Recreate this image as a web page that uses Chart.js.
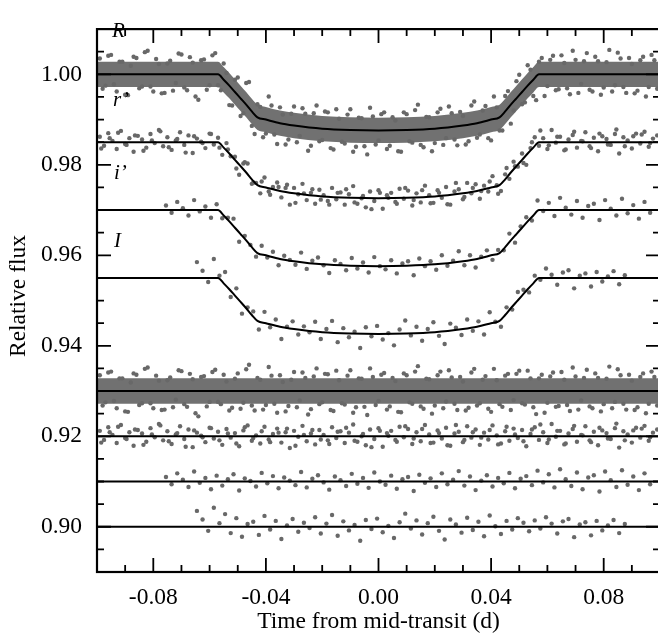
<!DOCTYPE html>
<html>
<head>
<meta charset="utf-8">
<script src="https://cdn.jsdelivr.net/npm/chart.js@4.4.1/dist/chart.umd.min.js"></script>
<style>
  html, body { margin: 0; padding: 0; background: #fff; overflow: hidden; }
  #wrap { width: 664px; height: 636px; }
</style>
</head>
<body>
<div id="wrap"><canvas id="lc" width="664" height="636"></canvas></div>
<script>
// band names, top to bottom
const bandNames = ['R', 'r\u2019', 'i\u2019', 'I'];

// time sampling of each light curve (d)
const rStart = -0.099, rStep = 0.002;
const r2Start = -0.098, r2Step = 0.002;
const rpStart = -0.099, rpStep = 0.0015;
const rp2Start = -0.0985, rp2Step = 0.003;
const ipStart = -0.0755, ipStep = 0.002;
const iStart = -0.0645, iStep = 0.002;

// R band relative flux (two interleaved runs)
const rFlux = [
  1.0035, 0.9975, 1.0043, 0.9962, 1.0028, 0.9954, 1.0039, 0.9969, 1.0049, 0.9973,
  1.0034, 0.9958, 1.0024, 0.9964, 1.0046, 0.9971, 1.0038, 0.9951, 1.0031, 0.9966,
  1.0042, 0.9976, 1.0024, 0.9932, 0.9988, 0.9908, 0.9981, 0.9886, 0.9934, 0.9861,
  0.9951, 0.9867, 0.9927, 0.9845, 0.9913, 0.9850, 0.9925, 0.9831, 0.9914, 0.9852,
  0.9918, 0.9837, 0.9923, 0.9851, 0.9911, 0.9829, 0.9904, 0.9841, 0.9926, 0.9845,
  0.9912, 0.9835, 0.9905, 0.9830, 0.9916, 0.9852, 0.9921, 0.9844, 0.9906, 0.9830,
  0.9916, 0.9844, 0.9929, 0.9856, 0.9917, 0.9845, 0.9931, 0.9860, 0.9920, 0.9859,
  0.9951, 0.9876, 0.9952, 0.9891, 0.9985, 0.9934, 1.0020, 0.9952, 1.0028, 0.9952,
  1.0032, 0.9965, 1.0042, 0.9969, 1.0052, 0.9959, 1.0029, 0.9966, 1.0039, 0.9955,
  1.0027, 0.9962, 1.0048, 0.9972, 1.0036, 0.9958, 1.0031, 0.9951, 1.0043, 0.9968
];
const rFlux2 = [
  0.9968, 1.0041, 0.9978, 1.0028, 0.9955, 1.0019, 1.0036, 0.9973, 1.0052, 0.9962,
  1.0023, 0.9959, 1.0030, 0.9981, 1.0044, 0.9965, 1.0026, 0.9944, 1.0033, 0.9976,
  1.0047, 0.9965, 1.0003, 0.9931, 0.9993, 0.9914, 0.9983, 0.9868, 0.9928, 0.9869,
  0.9931, 0.9846, 0.9911, 0.9856, 0.9929, 0.9864, 0.9913, 0.9842, 0.9931, 0.9855,
  0.9916, 0.9834, 0.9902, 0.9847, 0.9923, 0.9840, 0.9903, 0.9823, 0.9907, 0.9854,
  0.9916, 0.9842, 0.9898, 0.9829, 0.9912, 0.9849, 0.9933, 0.9839, 0.9905, 0.9848,
  0.9924, 0.9859, 0.9914, 0.9843, 0.9908, 0.9852, 0.9940, 0.9867, 0.9930, 0.9854,
  0.9927, 0.9876, 0.9963, 0.9920, 0.9999, 0.9938, 1.0010, 0.9943, 1.0036, 0.9974,
  1.0041, 0.9967, 1.0025, 0.9956, 1.0032, 0.9979, 1.0047, 0.9962, 1.0029, 0.9971,
  1.0054, 0.9976, 1.0035, 0.9959, 1.0023, 0.9964, 1.0039, 0.9972, 1.0031
];
// R residuals, offset to 0.93
const rResid = [
  0.9335, 0.9275, 0.9343, 0.9262, 0.9328, 0.9254, 0.9339, 0.9269, 0.9349, 0.9273,
  0.9334, 0.9258, 0.9324, 0.9264, 0.9346, 0.9271, 0.9338, 0.9251, 0.9331, 0.9266,
  0.9342, 0.9276, 0.9336, 0.9257, 0.9327, 0.9261, 0.9348, 0.9268, 0.9329, 0.9259,
  0.9353, 0.9272, 0.9335, 0.9255, 0.9325, 0.9264, 0.9341, 0.9248, 0.9332, 0.9271,
  0.9338, 0.9258, 0.9345, 0.9273, 0.9334, 0.9252, 0.9328, 0.9265, 0.9350, 0.9269,
  0.9336, 0.9259, 0.9329, 0.9254, 0.9339, 0.9275, 0.9343, 0.9266, 0.9327, 0.9250,
  0.9335, 0.9262, 0.9346, 0.9272, 0.9331, 0.9257, 0.9341, 0.9268, 0.9325, 0.9261,
  0.9349, 0.9271, 0.9334, 0.9258, 0.9338, 0.9273, 0.9345, 0.9264, 0.9328, 0.9252,
  0.9332, 0.9265, 0.9342, 0.9269, 0.9352, 0.9259, 0.9329, 0.9266, 0.9339, 0.9255,
  0.9327, 0.9262, 0.9348, 0.9272, 0.9336, 0.9258, 0.9331, 0.9251, 0.9343, 0.9268
];
const rResid2 = [
  0.9268, 0.9341, 0.9278, 0.9328, 0.9255, 0.9319, 0.9336, 0.9273, 0.9352, 0.9262,
  0.9323, 0.9259, 0.9330, 0.9281, 0.9344, 0.9265, 0.9326, 0.9244, 0.9333, 0.9276,
  0.9347, 0.9271, 0.9321, 0.9263, 0.9339, 0.9274, 0.9358, 0.9257, 0.9325, 0.9269,
  0.9334, 0.9252, 0.9320, 0.9267, 0.9342, 0.9279, 0.9329, 0.9260, 0.9350, 0.9275,
  0.9337, 0.9256, 0.9324, 0.9270, 0.9346, 0.9264, 0.9327, 0.9247, 0.9331, 0.9278,
  0.9340, 0.9266, 0.9322, 0.9253, 0.9335, 0.9272, 0.9355, 0.9261, 0.9326, 0.9268,
  0.9343, 0.9277, 0.9330, 0.9258, 0.9321, 0.9263, 0.9349, 0.9273, 0.9333, 0.9254,
  0.9324, 0.9265, 0.9338, 0.9280, 0.9345, 0.9270, 0.9328, 0.9249, 0.9336, 0.9274,
  0.9341, 0.9267, 0.9325, 0.9256, 0.9332, 0.9279, 0.9347, 0.9262, 0.9329, 0.9271,
  0.9354, 0.9276, 0.9335, 0.9259, 0.9323, 0.9264, 0.9339, 0.9272, 0.9331
];

// r' band, offset to 0.985
const rpFlux = [
  0.9862, 0.9842, 0.9870, 0.9853, 0.9835, 0.9875, 0.9846, 0.9859, 0.9829, 0.9864,
  0.9856, 0.9838, 0.9868, 0.9848, 0.9877, 0.9841, 0.9861, 0.9833, 0.9854, 0.9872,
  0.9844, 0.9865, 0.9826, 0.9858, 0.9851, 0.9837, 0.9869, 0.9845, 0.9860, 0.9822,
  0.9848, 0.9819, 0.9818, 0.9778, 0.9803, 0.9803, 0.9758, 0.9760, 0.9737, 0.9772,
  0.9741, 0.9751, 0.9761, 0.9728, 0.9749, 0.9712, 0.9749, 0.9735, 0.9758, 0.9722,
  0.9738, 0.9714, 0.9745, 0.9733, 0.9720, 0.9749, 0.9724, 0.9739, 0.9712, 0.9735,
  0.9753, 0.9714, 0.9726, 0.9706, 0.9741, 0.9720, 0.9744, 0.9703, 0.9733, 0.9738,
  0.9718, 0.9747, 0.9725, 0.9743, 0.9710, 0.9737, 0.9717, 0.9754, 0.9733, 0.9716,
  0.9744, 0.9727, 0.9751, 0.9712, 0.9741, 0.9746, 0.9724, 0.9760, 0.9737, 0.9757,
  0.9725, 0.9754, 0.9741, 0.9775, 0.9755, 0.9742, 0.9779, 0.9769, 0.9807, 0.9796,
  0.9825, 0.9800, 0.9837, 0.9861, 0.9842, 0.9859, 0.9835, 0.9877, 0.9849, 0.9862,
  0.9832, 0.9856, 0.9866, 0.9838, 0.9853, 0.9872, 0.9841, 0.9860, 0.9830, 0.9863,
  0.9857, 0.9844, 0.9868, 0.9825, 0.9861, 0.9854, 0.9836, 0.9869, 0.9847, 0.9873,
  0.9840, 0.9858, 0.9865
];
const rpFlux2 = [
  0.9836, 0.9859, 0.9871, 0.9844, 0.9865, 0.9831, 0.9854, 0.9874, 0.9839, 0.9857,
  0.9827, 0.9863, 0.9848, 0.9868, 0.9838, 0.9834, 0.9792, 0.9806, 0.9761, 0.9763,
  0.9734, 0.9751, 0.9756, 0.9716, 0.9737, 0.9746, 0.9723, 0.9712, 0.9738, 0.9746,
  0.9717, 0.9731, 0.9702, 0.9738, 0.9727, 0.9714, 0.9749, 0.9722, 0.9744, 0.9715,
  0.9738, 0.9713, 0.9760, 0.9729, 0.9749, 0.9742, 0.9763, 0.9736, 0.9793, 0.9797,
  0.9804, 0.9850, 0.9876, 0.9843, 0.9862, 0.9834, 0.9873, 0.9852, 0.9837, 0.9869,
  0.9845, 0.9878, 0.9841, 0.9863, 0.9867, 0.9848
];
const rpResid = [
  0.9212, 0.9192, 0.9220, 0.9203, 0.9185, 0.9225, 0.9196, 0.9209, 0.9179, 0.9214,
  0.9206, 0.9188, 0.9218, 0.9198, 0.9227, 0.9191, 0.9211, 0.9183, 0.9204, 0.9222,
  0.9194, 0.9215, 0.9176, 0.9208, 0.9201, 0.9187, 0.9219, 0.9195, 0.9210, 0.9181,
  0.9216, 0.9197, 0.9207, 0.9178, 0.9213, 0.9224, 0.9190, 0.9202, 0.9184, 0.9221,
  0.9193, 0.9205, 0.9217, 0.9186, 0.9209, 0.9174, 0.9212, 0.9199, 0.9223, 0.9189,
  0.9206, 0.9182, 0.9214, 0.9203, 0.9191, 0.9220, 0.9196, 0.9211, 0.9185, 0.9208,
  0.9226, 0.9188, 0.9200, 0.9180, 0.9215, 0.9194, 0.9218, 0.9177, 0.9207, 0.9212,
  0.9192, 0.9221, 0.9198, 0.9216, 0.9183, 0.9209, 0.9189, 0.9225, 0.9204, 0.9186,
  0.9213, 0.9195, 0.9219, 0.9179, 0.9206, 0.9210, 0.9187, 0.9222, 0.9197, 0.9215,
  0.9181, 0.9208, 0.9193, 0.9224, 0.9202, 0.9184, 0.9211, 0.9190, 0.9217, 0.9196,
  0.9214, 0.9178, 0.9205, 0.9220, 0.9192, 0.9209, 0.9185, 0.9227, 0.9199, 0.9212,
  0.9182, 0.9206, 0.9216, 0.9188, 0.9203, 0.9222, 0.9191, 0.9210, 0.9180, 0.9213,
  0.9207, 0.9194, 0.9218, 0.9175, 0.9211, 0.9204, 0.9186, 0.9219, 0.9197, 0.9223,
  0.9190, 0.9208, 0.9215
];
const rpResid2 = [
  0.9186, 0.9209, 0.9221, 0.9194, 0.9215, 0.9181, 0.9204, 0.9224, 0.9189, 0.9207,
  0.9177, 0.9213, 0.9198, 0.9218, 0.9191, 0.9206, 0.9184, 0.9220, 0.9196, 0.9211,
  0.9187, 0.9208, 0.9217, 0.9179, 0.9203, 0.9214, 0.9193, 0.9183, 0.9210, 0.9219,
  0.9190, 0.9205, 0.9176, 0.9212, 0.9201, 0.9188, 0.9222, 0.9195, 0.9216, 0.9185,
  0.9207, 0.9180, 0.9225, 0.9192, 0.9209, 0.9197, 0.9214, 0.9182, 0.9221, 0.9204,
  0.9189, 0.9215, 0.9226, 0.9193, 0.9212, 0.9184, 0.9223, 0.9202, 0.9187, 0.9219,
  0.9195, 0.9228, 0.9191, 0.9213, 0.9217, 0.9198
];

// i' band, offset to 0.970
const ipFlux = [
  0.9710, 0.9694, 0.9718, 0.9704, 0.9688, 0.9722, 0.9697, 0.9708, 0.9683, 0.9713,
  0.9682, 0.9683, 0.9681, 0.9630, 0.9643, 0.9623, 0.9597, 0.9621, 0.9595, 0.9608,
  0.9578, 0.9599, 0.9590, 0.9579, 0.9606, 0.9570, 0.9588, 0.9595, 0.9578, 0.9561,
  0.9589, 0.9581, 0.9567, 0.9594, 0.9571, 0.9584, 0.9562, 0.9596, 0.9576, 0.9569,
  0.9589, 0.9560, 0.9582, 0.9587, 0.9556, 0.9593, 0.9576, 0.9587, 0.9568, 0.9600,
  0.9577, 0.9588, 0.9609, 0.9578, 0.9600, 0.9573, 0.9597, 0.9611, 0.9590, 0.9612,
  0.9611, 0.9648, 0.9628, 0.9664, 0.9684, 0.9677, 0.9721, 0.9698, 0.9716, 0.9687,
  0.9727, 0.9705, 0.9690, 0.9720, 0.9683, 0.9709, 0.9714, 0.9678, 0.9722, 0.9703,
  0.9688, 0.9725, 0.9693, 0.9711, 0.9681, 0.9718, 0.9694
];
const ipResid = [
  0.9110, 0.9094, 0.9118, 0.9104, 0.9088, 0.9122, 0.9097, 0.9108, 0.9083, 0.9113,
  0.9091, 0.9105, 0.9116, 0.9080, 0.9107, 0.9101, 0.9089, 0.9119, 0.9096, 0.9112,
  0.9085, 0.9109, 0.9102, 0.9092, 0.9121, 0.9087, 0.9106, 0.9114, 0.9098, 0.9082,
  0.9111, 0.9103, 0.9090, 0.9117, 0.9095, 0.9108, 0.9086, 0.9120, 0.9100, 0.9093,
  0.9113, 0.9084, 0.9105, 0.9110, 0.9079, 0.9115, 0.9097, 0.9107, 0.9088, 0.9118,
  0.9094, 0.9104, 0.9123, 0.9091, 0.9111, 0.9081, 0.9102, 0.9114, 0.9089, 0.9108,
  0.9096, 0.9119, 0.9085, 0.9106, 0.9112, 0.9092, 0.9124, 0.9098, 0.9116, 0.9087,
  0.9127, 0.9105, 0.9090, 0.9120, 0.9083, 0.9109, 0.9114, 0.9078, 0.9122, 0.9103,
  0.9088, 0.9125, 0.9093, 0.9111, 0.9081, 0.9118, 0.9094
];

// I band, offset to 0.955
const iFlux = [
  0.9585, 0.9566, 0.9541, 0.9592, 0.9555, 0.9563, 0.9508, 0.9527, 0.9471, 0.9485,
  0.9476, 0.9436, 0.9475, 0.9441, 0.9458, 0.9415, 0.9442, 0.9454, 0.9425, 0.9443,
  0.9430, 0.9453, 0.9415, 0.9437, 0.9455, 0.9408, 0.9439, 0.9419, 0.9431, 0.9395,
  0.9441, 0.9421, 0.9444, 0.9414, 0.9428, 0.9401, 0.9436, 0.9456, 0.9423, 0.9442,
  0.9411, 0.9437, 0.9452, 0.9422, 0.9404, 0.9449, 0.9440, 0.9424, 0.9458, 0.9433,
  0.9454, 0.9425, 0.9474, 0.9453, 0.9442, 0.9485, 0.9480, 0.9519, 0.9524, 0.9518,
  0.9555, 0.9546, 0.9571, 0.9557, 0.9535, 0.9562, 0.9567, 0.9527, 0.9555, 0.9560,
  0.9531, 0.9563, 0.9542, 0.9553, 0.9565, 0.9536, 0.9556
];
const iResid = [
  0.9035, 0.9016, 0.8991, 0.9042, 0.9008, 0.9028, 0.8986, 0.9019, 0.8978, 0.9006,
  0.9011, 0.8982, 0.9024, 0.8994, 0.9013, 0.8973, 0.9003, 0.9017, 0.8989, 0.9009,
  0.8997, 0.9021, 0.8985, 0.9007, 0.9026, 0.8980, 0.9012, 0.8992, 0.9004, 0.8969,
  0.9015, 0.8995, 0.9018, 0.8988, 0.9002, 0.8975, 0.9010, 0.9029, 0.8996, 0.9014,
  0.8983, 0.9008, 0.9022, 0.8991, 0.8972, 0.9016, 0.9005, 0.8987, 0.9020, 0.8993,
  0.9011, 0.8979, 0.9025, 0.9001, 0.8984, 0.9013, 0.8994, 0.9019, 0.9009, 0.8990,
  0.9014, 0.8996, 0.9021, 0.9007, 0.8985, 0.9012, 0.9017, 0.8977, 0.9005, 0.9010,
  0.8981, 0.9013, 0.8992, 0.9003, 0.9015, 0.8986, 0.9006
];

// transit model curves, read at these times
const modelT = [-0.1, -0.057, -0.055, -0.053, -0.051, -0.049, -0.047, -0.045, -0.043, -0.04,
  -0.035, -0.03, -0.02, -0.01, 0, 0.01, 0.02, 0.03, 0.035, 0.04,
  0.043, 0.045, 0.047, 0.049, 0.051, 0.053, 0.055, 0.057, 0.1];
const rModel = [1.0, 1.0, 0.9988, 0.9975, 0.9961, 0.9947, 0.9933, 0.9918, 0.9905, 0.9900,
  0.9892, 0.9887, 0.9880, 0.9877, 0.9876, 0.9877, 0.9880, 0.9887, 0.9892, 0.9900,
  0.9905, 0.9918, 0.9933, 0.9947, 0.9961, 0.9975, 0.9988, 1.0, 1.0];
const rpModel = [0.985, 0.985, 0.9838, 0.9825, 0.9811, 0.9797, 0.9783, 0.9768, 0.9755, 0.9750,
  0.9742, 0.9737, 0.9730, 0.9727, 0.9726, 0.9727, 0.9730, 0.9737, 0.9742, 0.9750,
  0.9755, 0.9768, 0.9783, 0.9797, 0.9811, 0.9825, 0.9838, 0.985, 0.985];
const ipModel = [0.970, 0.970, 0.9688, 0.9675, 0.9661, 0.9647, 0.9633, 0.9618, 0.9605, 0.9600,
  0.9592, 0.9587, 0.9580, 0.9577, 0.9576, 0.9577, 0.9580, 0.9587, 0.9592, 0.9600,
  0.9605, 0.9618, 0.9633, 0.9647, 0.9661, 0.9675, 0.9688, 0.970, 0.970];
const iModel = [0.955, 0.955, 0.9538, 0.9525, 0.9511, 0.9497, 0.9483, 0.9468, 0.9455, 0.9450,
  0.9442, 0.9437, 0.9430, 0.9427, 0.9426, 0.9427, 0.9430, 0.9437, 0.9442, 0.9450,
  0.9455, 0.9468, 0.9483, 0.9497, 0.9511, 0.9525, 0.9538, 0.955, 0.955];

// dense core of the R points (upper / lower edge at the model times)
const rCoreHi = [1.0028, 1.0028, 1.0016, 1.0003, 0.9989, 0.9975, 0.9961, 0.9946, 0.9933, 0.9928,
  0.9920, 0.9915, 0.9908, 0.9905, 0.9904, 0.9905, 0.9908, 0.9915, 0.9920, 0.9928,
  0.9933, 0.9946, 0.9961, 0.9975, 0.9989, 1.0003, 1.0016, 1.0028, 1.0028];
const rCoreLo = [0.9972, 0.9972, 0.9960, 0.9947, 0.9933, 0.9919, 0.9905, 0.9890, 0.9877, 0.9872,
  0.9864, 0.9859, 0.9852, 0.9849, 0.9848, 0.9849, 0.9852, 0.9859, 0.9864, 0.9872,
  0.9877, 0.9890, 0.9905, 0.9919, 0.9933, 0.9947, 0.9960, 0.9972, 0.9972];
const residT = [-0.1, 0.1];
const rResCoreHi = [0.9328, 0.9328];
const rResCoreLo = [0.9272, 0.9272];

// residual zero levels
const residLevels = [0.93, 0.92, 0.91, 0.90];

// axis ticks
const xLabelTicks = [-0.08, -0.04, 0.0, 0.04, 0.08];
const yLabelTicks = [0.90, 0.92, 0.94, 0.96, 0.98, 1.00];

const dotColor = '#686868';
const serif = '"Liberation Serif", "Times New Roman", serif';

function sampled(start, step, ys) {
  return ys.map((v, i) => ({ x: start + step * i, y: v }));
}
function paired(ts, ys) {
  return ys.map((v, i) => ({ x: ts[i], y: v }));
}

function dots(data) {
  return {
    data: data, showLine: false, pointRadius: 2.2, pointHoverRadius: 2.2,
    pointBackgroundColor: dotColor, pointBorderColor: dotColor, pointBorderWidth: 0, order: 1
  };
}
function curve(data) {
  return {
    data: data, showLine: true, borderColor: '#000', borderWidth: 2,
    pointRadius: 0, cubicInterpolationMode: 'monotone', fill: false, order: 0
  };
}
function core(data, fillTo) {
  return {
    data: data, showLine: true, borderWidth: 0, borderColor: 'rgba(0,0,0,0)',
    backgroundColor: '#717171', pointRadius: 0, cubicInterpolationMode: 'monotone',
    fill: fillTo, order: 2
  };
}

let datasets = [
  curve(paired(modelT, rModel)),
  curve(paired(modelT, rpModel)),
  curve(paired(modelT, ipModel)),
  curve(paired(modelT, iModel))
];
residLevels.forEach(lv => datasets.push(curve(paired(residT, [lv, lv]))));
datasets.push(
  dots(sampled(rStart, rStep, rFlux)),
  dots(sampled(r2Start, r2Step, rFlux2)),
  dots(sampled(rStart, rStep, rResid)),
  dots(sampled(r2Start, r2Step, rResid2)),
  dots(sampled(rpStart, rpStep, rpFlux)),
  dots(sampled(rp2Start, rp2Step, rpFlux2)),
  dots(sampled(rpStart, rpStep, rpResid)),
  dots(sampled(rp2Start, rp2Step, rpResid2)),
  dots(sampled(ipStart, ipStep, ipFlux)),
  dots(sampled(ipStart, ipStep, ipResid)),
  dots(sampled(iStart, iStep, iFlux)),
  dots(sampled(iStart, iStep, iResid))
);
let n = datasets.length;
datasets.push(core(paired(modelT, rCoreHi), n + 1));
datasets.push(core(paired(modelT, rCoreLo), false));
datasets.push(core(paired(residT, rResCoreHi), n + 3));
datasets.push(core(paired(residT, rResCoreLo), false));

const framePlugin = {
  id: 'framePlugin',
  afterDraw(chart) {
    const { ctx, chartArea: a, scales: { x, y } } = chart;
    ctx.save();
    ctx.strokeStyle = '#000';
    ctx.lineWidth = 2.2;
    ctx.strokeRect(a.left, a.top, a.right - a.left, a.bottom - a.top);
    ctx.lineWidth = 1.8;
    ctx.beginPath();
    for (let k = -10; k <= 10; k++) {
      let px = x.getPixelForValue(k / 100);
      let len = k % 4 === 0 ? 14 : 7;
      ctx.moveTo(px, a.bottom); ctx.lineTo(px, a.bottom - len);
      ctx.moveTo(px, a.top); ctx.lineTo(px, a.top + len);
    }
    for (let k = 178; k <= 202; k++) {
      let py = y.getPixelForValue(k * 0.005);
      let len = k % 4 === 0 ? 14 : 7;
      ctx.moveTo(a.left, py); ctx.lineTo(a.left + len, py);
      ctx.moveTo(a.right, py); ctx.lineTo(a.right - len, py);
    }
    ctx.stroke();

    ctx.fillStyle = '#000';
    ctx.font = '23.5px ' + serif;
    ctx.textAlign = 'center';
    ctx.textBaseline = 'middle';
    ctx.fillText('Time from mid-transit (d)', (a.left + a.right) / 2, 622);
    ctx.save();
    ctx.translate(19, 296);
    ctx.rotate(-Math.PI / 2);
    ctx.fillText('Relative flux', 0, 0);
    ctx.restore();

    ctx.font = 'italic 21px ' + serif;
    ctx.textAlign = 'left';
    ctx.fillText(bandNames[0], 112, 31);
    ctx.fillText(bandNames[1], 113, 100);
    ctx.fillText(bandNames[2], 114, 173);
    ctx.fillText(bandNames[3], 114, 241);
    ctx.restore();
  }
};

new Chart(document.getElementById('lc'), {
  type: 'scatter',
  data: { datasets: datasets },
  options: {
    responsive: false,
    animation: false,
    events: [],
    layout: { padding: { left: 0, right: 4, top: 9, bottom: 0 } },
    plugins: { legend: { display: false }, tooltip: { enabled: false } },
    scales: {
      x: {
        type: 'linear', min: -0.1, max: 0.1,
        grid: { display: false, drawTicks: false },
        border: { display: false },
        afterBuildTicks: s => { s.ticks = xLabelTicks.map(v => ({ value: v })); },
        afterFit: s => { s.height = 64; },
        ticks: {
          autoSkip: false, maxRotation: 0, padding: 12, color: '#000',
          font: { family: serif, size: 23.5 },
          callback: v => v.toFixed(2)
        }
      },
      y: {
        type: 'linear', min: 0.89, max: 1.01,
        grid: { display: false, drawTicks: false },
        border: { display: false },
        afterBuildTicks: s => { s.ticks = yLabelTicks.map(v => ({ value: v })); },
        afterFit: s => { s.width = 97; },
        ticks: {
          autoSkip: false, padding: 15, color: '#000',
          font: { family: serif, size: 23.5 },
          callback: v => v.toFixed(2)
        }
      }
    }
  },
  plugins: [framePlugin]
});
</script>
</body>
</html>
